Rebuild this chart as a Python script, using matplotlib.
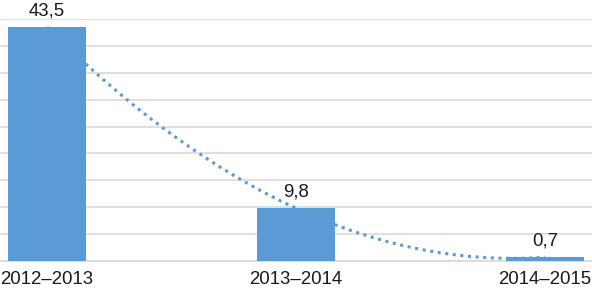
import matplotlib
matplotlib.use("Agg")
import matplotlib.pyplot as plt
import numpy as np

categories = ["2012–2013", "2013–2014", "2014–2015"]
values = [43.5, 9.8, 0.7]
value_labels = ["43,5", "9,8", "0,7"]

W, H = 592, 291
fig = plt.figure(figsize=(W / 100, H / 100), dpi=100)
ax = fig.add_axes([0, 1 - 261 / H, 1, (261 - 19) / H])

x = np.arange(len(categories))
color = "#5B9BD5"
ax.bar(x, values, width=0.313, color=color, zorder=3)

# polynomial (order 2) trendline
coef = np.polyfit(x, values, 2)
xs = np.linspace(0, 2, 300)
ax.plot(xs, np.polyval(coef, xs), linestyle=(0, (1, 1.5)), color=color,
        linewidth=2.2, zorder=2)

for xi, v, lab in zip(x, values, value_labels):
    ax.text(xi, v + 1.5, lab, ha="center", va="bottom", fontsize=13.4,
            family="Liberation Sans", color="#1a1a1a", clip_on=False, zorder=4)

ax.set_xlim(-47 / 249, (W - 47) / 249)
ax.set_ylim(0, 45)
ax.set_yticks(np.arange(0, 46, 5))
ax.yaxis.grid(True, color="#D9D9D9", linewidth=1.2, zorder=0)
ax.set_axisbelow(True)
ax.tick_params(axis="y", left=False, labelleft=False)
ax.set_xticks(x)
ax.set_xticklabels(categories, fontsize=13.4, family="Liberation Sans", color="#1a1a1a")
ax.tick_params(axis="x", length=0, pad=7.5)
for s in ["top", "right", "left"]:
    ax.spines[s].set_visible(False)
ax.spines["bottom"].set_color("#D9D9D9")
ax.spines["bottom"].set_linewidth(1.2)

fig.savefig("out.png", dpi=100)
